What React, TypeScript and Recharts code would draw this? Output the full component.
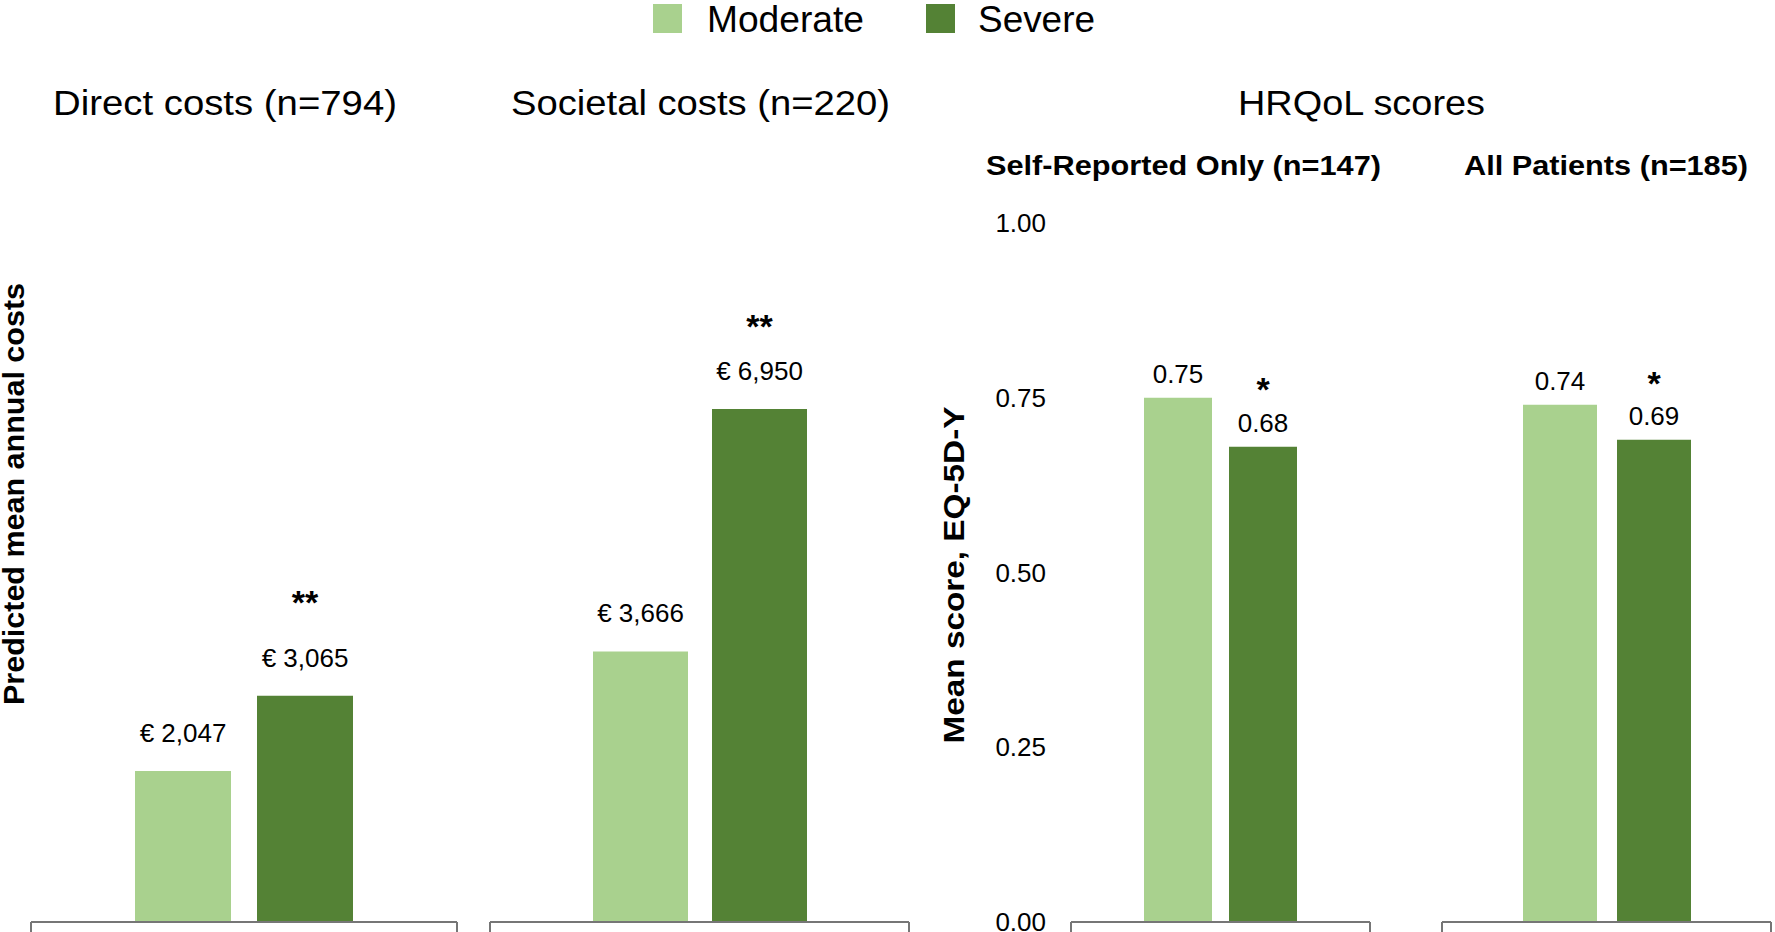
import React from 'react';
import { BarChart, Bar, XAxis, YAxis, LabelList } from 'recharts';

// values
const groups = ['Moderate', 'Severe'];
const directCosts = [2047, 3065];
const societalCosts = [3666, 6950];
const selfReportedScores = [0.75, 0.68];
const allPatientScores = [0.74, 0.69];
const significance = ['**', '**', '*', '*'];
const scoreTicks = [0, 0.25, 0.5, 0.75, 1];
const costMax = 10000;
const scoreMax = 1;

const LIGHT = '#a9d18e';
const DARK = '#548235';
const AXIS = '#767676';
const FONT = '"Liberation Sans", Arial, Helvetica, sans-serif';
const CHART_H = 960;
const PLOT_BOTTOM = 922;

const euro = (v: any) => '€ ' + Number(v).toLocaleString('en-US');
const score = (v: any) => Number(v).toFixed(2);

const starLabel = (offset: number) => (props: any) => {
  const { x, y, width, value } = props;
  if (!value) return null;
  return (
    <text x={Number(x) + Number(width) / 2} y={Number(y) - offset} textAnchor="middle"
      fontSize={34} fontWeight="bold" fontFamily={FONT} fill="#000">
      {value}
    </text>
  );
};

// the category band spans the whole plot, so its edges sit half a plot width either side of the tick
const edgeTicks = (half: number) => (props: any) => {
  const { x, y } = props;
  const cx = Number(x);
  const cy = Number(y);
  return (
    <g>
      <line x1={cx - half} x2={cx - half} y1={cy} y2={cy + 14} stroke={AXIS} strokeWidth={2} />
      <line x1={cx + half} x2={cx + half} y1={cy} y2={cy + 14} stroke={AXIS} strokeWidth={2} />
    </g>
  );
};

type PanelProps = {
  values: number[];
  sig: string;
  plotLeft: number;
  plotWidth: number;
  plotTop: number;
  max: number;
  barSize: number;
  barGap: number;
  labelOffset: number;
  starOffset: number;
  fmt: (v: any) => string;
  showAxis?: boolean;
};

function Panel({ values, sig, plotLeft, plotWidth, plotTop, max, barSize, barGap, labelOffset, starOffset, fmt, showAxis }: PanelProps) {
  const yW = showAxis ? 90 : 0;
  const data = [{ name: 'g', [groups[0]]: values[0], [groups[1]]: values[1], sig }];
  return (
    <div style={{ position: 'absolute', top: 0, left: plotLeft - yW - 10 }}>
      <BarChart width={yW + plotWidth + 20} height={CHART_H} data={data} barSize={barSize} barGap={barGap}
        margin={{ top: plotTop, right: 10, bottom: 0, left: 10 }}>
        <XAxis dataKey="name" height={CHART_H - PLOT_BOTTOM} tickSize={0} tickMargin={0} tickLine={false}
          axisLine={{ stroke: AXIS, strokeWidth: 2 }} tick={edgeTicks(plotWidth / 2)} interval={0} />
        {showAxis ? (
          <YAxis domain={[0, max]} ticks={scoreTicks} tickFormatter={score} axisLine={false} tickLine={false}
            tickSize={0} tickMargin={25} width={yW} interval={0}
            tick={{ fontSize: 26, fill: '#000', fontFamily: FONT }} />
        ) : (
          <YAxis hide domain={[0, max]} />
        )}
        <Bar dataKey={groups[0]} fill={LIGHT} isAnimationActive={false}>
          <LabelList dataKey={groups[0]} position="top" offset={labelOffset} formatter={fmt}
            fill="#000" fontSize={26} fontFamily={FONT} />
        </Bar>
        <Bar dataKey={groups[1]} fill={DARK} isAnimationActive={false}>
          <LabelList dataKey={groups[1]} position="top" offset={labelOffset} formatter={fmt}
            fill="#000" fontSize={26} fontFamily={FONT} />
          <LabelList dataKey="sig" content={starLabel(starOffset)} />
        </Bar>
      </BarChart>
    </div>
  );
}

export default function App() {
  const t = { fontFamily: FONT, fill: '#000' };
  return (
    <div style={{ position: 'absolute', top: 0, left: 0, width: 1775, height: 932, overflow: 'hidden', background: '#fff' }}>
      <Panel values={directCosts} sig={significance[0]} plotLeft={31} plotWidth={426} plotTop={184} max={costMax}
        barSize={96} barGap={26} labelOffset={29} starOffset={82} fmt={euro} />
      <Panel values={societalCosts} sig={significance[1]} plotLeft={490} plotWidth={419} plotTop={184} max={costMax}
        barSize={95} barGap={24} labelOffset={29} starOffset={71} fmt={euro} />
      <Panel values={selfReportedScores} sig={significance[2]} plotLeft={1071} plotWidth={299} plotTop={223} max={scoreMax}
        barSize={68} barGap={17} labelOffset={15} starOffset={46} fmt={score} showAxis />
      <Panel values={allPatientScores} sig={significance[3]} plotLeft={1442} plotWidth={329} plotTop={223} max={scoreMax}
        barSize={74} barGap={20} labelOffset={15} starOffset={45} fmt={score} />

      <svg width={1775} height={932} style={{ position: 'absolute', top: 0, left: 0, pointerEvents: 'none' }}>
        <rect x={653} y={4} width={29} height={29} fill={LIGHT} />
        <text x={707} y={32} fontSize={36} textLength={157} lengthAdjust="spacingAndGlyphs" {...t}>{groups[0]}</text>
        <rect x={926} y={4} width={29} height={29} fill={DARK} />
        <text x={978} y={32} fontSize={36} textLength={117} lengthAdjust="spacingAndGlyphs" {...t}>{groups[1]}</text>

        <text x={53} y={115} fontSize={35} textLength={344} lengthAdjust="spacingAndGlyphs" {...t}>Direct costs (n=794)</text>
        <text x={511} y={115} fontSize={35} textLength={379} lengthAdjust="spacingAndGlyphs" {...t}>Societal costs (n=220)</text>
        <text x={1238} y={115} fontSize={35} textLength={247} lengthAdjust="spacingAndGlyphs" {...t}>HRQoL scores</text>
        <text x={986} y={175} fontSize={27} fontWeight="bold" textLength={395} lengthAdjust="spacingAndGlyphs" {...t}>Self-Reported Only (n=147)</text>
        <text x={1464} y={175} fontSize={27} fontWeight="bold" textLength={284} lengthAdjust="spacingAndGlyphs" {...t}>All Patients (n=185)</text>

        <text transform="translate(24,494) rotate(-90)" textAnchor="middle" fontSize={30} fontWeight="bold"
          textLength={422} lengthAdjust="spacingAndGlyphs" {...t}>Predicted mean annual costs</text>
        <text transform="translate(964,575) rotate(-90)" textAnchor="middle" fontSize={30} fontWeight="bold"
          textLength={337} lengthAdjust="spacingAndGlyphs" {...t}>Mean score, EQ-5D-Y</text>
      </svg>
    </div>
  );
}
